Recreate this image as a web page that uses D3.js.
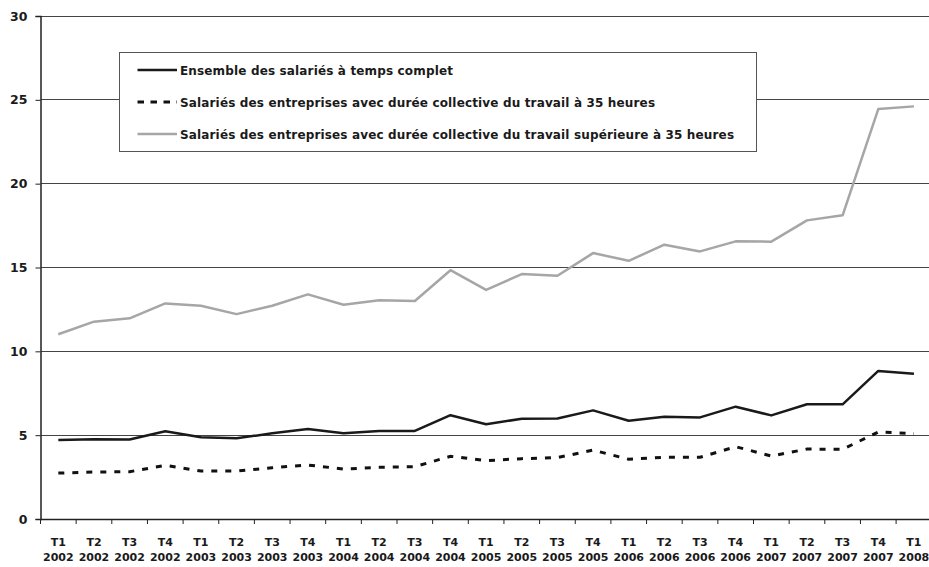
<!DOCTYPE html>
<html>
<head>
<meta charset="utf-8">
<script src="https://cdn.jsdelivr.net/npm/d3@7"></script>
<style>
  body { margin: 0; background: #fff; }
  svg { display: block; }
  text { font-family: "DejaVu Sans", sans-serif; font-weight: bold; fill: #1a1a1a; }
</style>
</head>
<body>
<svg id="chart" width="929" height="567"></svg>
<script>
const quarters = ["T1","T2","T3","T4","T1","T2","T3","T4","T1","T2","T3","T4","T1","T2","T3","T4","T1","T2","T3","T4","T1","T2","T3","T4","T1"];
const years = ["2002","2002","2002","2002","2003","2003","2003","2003","2004","2004","2004","2004","2005","2005","2005","2005","2006","2006","2006","2006","2007","2007","2007","2007","2008"];
const ensemble = [4.71,4.75,4.74,5.23,4.87,4.81,5.11,5.37,5.11,5.25,5.25,6.19,5.65,5.98,5.99,6.48,5.86,6.10,6.06,6.70,6.18,6.84,6.84,8.83,8.66];
const a35 = [2.74,2.80,2.82,3.20,2.86,2.86,3.06,3.22,2.98,3.08,3.12,3.74,3.48,3.60,3.66,4.11,3.56,3.68,3.68,4.31,3.76,4.17,4.16,5.19,5.09];
const sup35 = [11.02,11.77,11.97,12.86,12.72,12.22,12.72,13.40,12.78,13.04,13.00,14.84,13.66,14.61,14.51,15.86,15.40,16.36,15.96,16.56,16.54,17.81,18.11,24.45,24.61];
const yTicks = [0,5,10,15,20,25,30];
const legendLabels = [
  "Ensemble des salariés à temps complet",
  "Salariés des entreprises avec durée collective du travail à 35 heures",
  "Salariés des entreprises avec durée collective du travail supérieure à 35 heures"
];

const svg = d3.select("#chart");
const mLeft = 40.5, mRight = 931.75, mTop = 16, mBottom = 519;
const idx = d3.range(quarters.length);
const x = d3.scaleBand().domain(idx).range([mLeft, mRight]);
const y = d3.scaleLinear().domain([0, 30]).range([mBottom, mTop]);

// gridlines
svg.append("g").selectAll("line").data(yTicks.filter(d => d > 0)).join("line")
  .attr("x1", mLeft).attr("x2", 929).attr("y1", d => y(d)).attr("y2", d => y(d))
  .attr("stroke", "#444").attr("stroke-width", 1).attr("shape-rendering", "crispEdges");

// y axis
const yAxis = svg.append("g").attr("transform", `translate(${mLeft},0)`)
  .call(d3.axisLeft(y).tickValues(yTicks).tickSize(5).tickPadding(8));
yAxis.select(".domain").attr("stroke", "#222").attr("stroke-width", 1.5);
yAxis.selectAll(".tick line").attr("stroke", "#222");
yAxis.selectAll(".tick text").style("font-size", "12.5px").style("font-family", "DejaVu Sans").style("font-weight", "bold").attr("fill", "#1a1a1a");

// x axis
const xAxis = svg.append("g").attr("transform", `translate(0,${mBottom})`)
  .call(d3.axisBottom(x).tickSize(0).tickFormat(""));
xAxis.select(".domain").attr("stroke", "#222").attr("stroke-width", 1.5);
svg.append("g").selectAll("line").data(idx).join("line")
  .attr("x1", d => x(d)).attr("x2", d => x(d))
  .attr("y1", mBottom).attr("y2", mBottom + 5)
  .attr("stroke", "#222").attr("stroke-width", 1);
const xl = svg.append("g").selectAll("text").data(idx).join("text")
  .attr("x", d => x(d) + x.bandwidth() / 2)
  .attr("text-anchor", "middle")
  .style("font-size", "11px");
xl.append("tspan").attr("x", d => x(d) + x.bandwidth() / 2).attr("y", 546).text(d => quarters[d]);
xl.append("tspan").attr("x", d => x(d) + x.bandwidth() / 2).attr("y", 561).text(d => years[d]);

const line = d3.line().x((d, i) => x(i) + x.bandwidth() / 2).y(d => y(d));

svg.append("path").datum(sup35).attr("d", line)
  .attr("fill", "none").attr("stroke", "#a6a6a6").attr("stroke-width", 2.5).attr("stroke-linejoin", "round");
svg.append("path").datum(a35).attr("d", line)
  .attr("fill", "none").attr("stroke", "#111").attr("stroke-width", 3).attr("stroke-dasharray", "6,8");
svg.append("path").datum(ensemble).attr("d", line)
  .attr("fill", "none").attr("stroke", "#1a1a1a").attr("stroke-width", 2.5).attr("stroke-linejoin", "round");

// legend
const lg = svg.append("g");
lg.append("rect").attr("x", 119.5).attr("y", 52.5).attr("width", 637).attr("height", 99)
  .attr("fill", "#fff").attr("stroke", "#555").attr("stroke-width", 1);
const styles = [
  {stroke: "#1a1a1a", w: 2.5, dash: null},
  {stroke: "#111", w: 3, dash: "6.5,6.5"},
  {stroke: "#a6a6a6", w: 2.5, dash: null}
];
const rowY = [70, 102, 134];
legendLabels.forEach((lab, i) => {
  lg.append("line").attr("x1", 137.5).attr("x2", 177).attr("y1", rowY[i]).attr("y2", rowY[i])
    .attr("stroke", styles[i].stroke).attr("stroke-width", styles[i].w)
    .attr("stroke-dasharray", styles[i].dash);
  lg.append("text").attr("x", 180).attr("y", rowY[i] + 4.5).style("font-size", "12px").style("letter-spacing", "0.15px").text(lab);
});
</script>
</body>
</html>
